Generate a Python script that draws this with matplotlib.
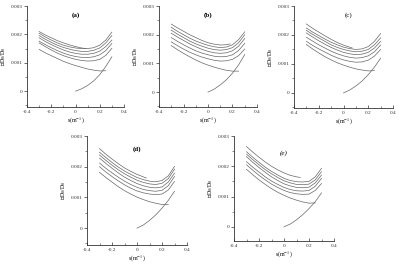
import matplotlib
matplotlib.use("Agg")
import matplotlib.pyplot as plt
from matplotlib.ticker import MultipleLocator

plt.rcParams['font.family'] = ['Liberation Serif', 'DejaVu Sans']
plt.rcParams['mathtext.fontset'] = 'stix'

# x grids
x_full = [-0.3, -0.25, -0.2, -0.15, -0.1, -0.05, 0.0, 0.05, 0.1, 0.15, 0.2, 0.25, 0.3]
x_desc = [-0.3, -0.25, -0.2, -0.15, -0.1, -0.05, 0.0, 0.05, 0.1, 0.15, 0.2, 0.25]
x_rise = [0.0, 0.05, 0.1, 0.15, 0.2, 0.25, 0.3]

panel_labels = ['(a)', '(b)', '(c)', '(d)', '(e)']
xlabel = 's(m$^{-1}$)'
ylabel = '△D$_0$/D$_0$'
xticks = [-0.4, -0.2, 0, 0.2, 0.4]
xticklabels = ['-0.4', '-0.2', '0', '0.2', '0.4']
yticks = [0, 0.001, 0.002, 0.003]
yticklabels = ['0', '0.001', '0.002', '0.003']

# panel (a)
a_top_x = [-0.3, -0.25, -0.2, -0.15, -0.1, -0.05, 0.0, 0.05, 0.09]
a_top = [0.00210, 0.00198, 0.00188, 0.00178, 0.00170, 0.00163, 0.00157, 0.00152, 0.00150]
a_full = [
    [0.00204, 0.00191, 0.00180, 0.00170, 0.00162, 0.00156, 0.00152, 0.00150, 0.00150, 0.00153, 0.00162, 0.00180, 0.00208],
    [0.00196, 0.00183, 0.00172, 0.00162, 0.00154, 0.00148, 0.00143, 0.00140, 0.00140, 0.00144, 0.00152, 0.00170, 0.00196],
    [0.00188, 0.00175, 0.00164, 0.00154, 0.00145, 0.00138, 0.00133, 0.00130, 0.00130, 0.00133, 0.00141, 0.00157, 0.00180],
    [0.00176, 0.00164, 0.00153, 0.00143, 0.00134, 0.00127, 0.00122, 0.00119, 0.00118, 0.00121, 0.00128, 0.00143, 0.00168],
    [0.00170, 0.00157, 0.00145, 0.00134, 0.00125, 0.00118, 0.00112, 0.00108, 0.00106, 0.00107, 0.00112, 0.00126, 0.00151],
]
a_desc = [0.00147, 0.00135, 0.00125, 0.00115, 0.00105, 0.00097, 0.00090, 0.00084, 0.00078, 0.00074, 0.00071, 0.00072]
a_rise = [0.0, 0.00008, 0.00020, 0.00036, 0.00058, 0.00087, 0.00121]

# panel (b)
b_top_x = [-0.3, -0.25, -0.2, -0.15, -0.1, -0.05, 0.0, 0.05, 0.1, 0.15, 0.18]
b_top = [0.00237, 0.00224, 0.00212, 0.00200, 0.00190, 0.00180, 0.00172, 0.00167, 0.00164, 0.00165, 0.00168]
b_full = [
    [0.00226, 0.00212, 0.00200, 0.00188, 0.00178, 0.00170, 0.00163, 0.00158, 0.00155, 0.00157, 0.00165, 0.00183, 0.00210],
    [0.00216, 0.00202, 0.00190, 0.00178, 0.00168, 0.00160, 0.00153, 0.00148, 0.00146, 0.00148, 0.00155, 0.00172, 0.00200],
    [0.00205, 0.00192, 0.00180, 0.00168, 0.00158, 0.00149, 0.00142, 0.00137, 0.00135, 0.00137, 0.00144, 0.00160, 0.00187],
    [0.00190, 0.00177, 0.00165, 0.00154, 0.00144, 0.00136, 0.00130, 0.00125, 0.00123, 0.00124, 0.00130, 0.00145, 0.00170],
    [0.00175, 0.00162, 0.00150, 0.00139, 0.00130, 0.00122, 0.00116, 0.00111, 0.00108, 0.00109, 0.00114, 0.00127, 0.00150],
]
b_desc = [0.00162, 0.00148, 0.00135, 0.00123, 0.00112, 0.00102, 0.00094, 0.00087, 0.00081, 0.00076, 0.00073, 0.00073]
b_rise = [0.0, 0.00010, 0.00025, 0.00043, 0.00066, 0.00095, 0.00131]

# panel (c)
c_top_x = [-0.3, -0.25, -0.2, -0.15, -0.1, -0.05, 0.0, 0.05, 0.07]
c_top = [0.00238, 0.00223, 0.00210, 0.00197, 0.00185, 0.00174, 0.00165, 0.00158, 0.00155]
c_full = [
    [0.00224, 0.00210, 0.00198, 0.00186, 0.00175, 0.00166, 0.00158, 0.00153, 0.00150, 0.00152, 0.00160, 0.00178, 0.00205],
    [0.00216, 0.00202, 0.00190, 0.00178, 0.00166, 0.00157, 0.00150, 0.00145, 0.00142, 0.00144, 0.00150, 0.00166, 0.00190],
    [0.00207, 0.00193, 0.00180, 0.00168, 0.00157, 0.00148, 0.00140, 0.00135, 0.00132, 0.00134, 0.00140, 0.00155, 0.00178],
    [0.00192, 0.00179, 0.00166, 0.00155, 0.00144, 0.00135, 0.00128, 0.00123, 0.00120, 0.00122, 0.00128, 0.00142, 0.00165],
    [0.00178, 0.00164, 0.00152, 0.00141, 0.00130, 0.00121, 0.00114, 0.00109, 0.00106, 0.00107, 0.00113, 0.00127, 0.00150],
]
c_desc = [0.00167, 0.00152, 0.00138, 0.00125, 0.00114, 0.00104, 0.00096, 0.00089, 0.00083, 0.00079, 0.00076, 0.00077]
c_rise = [0.0, 0.00010, 0.00024, 0.00041, 0.00063, 0.00089, 0.00120]

# panel (d)
d_top_x = [-0.3, -0.25, -0.2, -0.15, -0.1, -0.05, 0.0, 0.05, 0.075]
d_top = [0.00259, 0.00241, 0.00225, 0.00210, 0.00196, 0.00185, 0.00175, 0.00167, 0.00163]
d_full = [
    [0.00247, 0.00230, 0.00214, 0.00199, 0.00186, 0.00175, 0.00165, 0.00158, 0.00153, 0.00151, 0.00155, 0.00170, 0.00201],
    [0.00238, 0.00221, 0.00205, 0.00190, 0.00177, 0.00166, 0.00156, 0.00149, 0.00144, 0.00142, 0.00146, 0.00161, 0.00192],
    [0.00228, 0.00211, 0.00195, 0.00180, 0.00166, 0.00155, 0.00145, 0.00138, 0.00133, 0.00131, 0.00134, 0.00150, 0.00179],
    [0.00212, 0.00195, 0.00180, 0.00166, 0.00153, 0.00142, 0.00133, 0.00126, 0.00122, 0.00120, 0.00123, 0.00138, 0.00168],
    [0.00200, 0.00183, 0.00168, 0.00154, 0.00141, 0.00130, 0.00121, 0.00115, 0.00111, 0.00109, 0.00111, 0.00124, 0.00152],
]
d_desc = [0.00182, 0.00165, 0.00150, 0.00135, 0.00122, 0.00111, 0.00101, 0.00093, 0.00086, 0.00081, 0.00077, 0.00077]
d_rise = [0.0, 0.00010, 0.00025, 0.00043, 0.00065, 0.00090, 0.00120]

# panel (e)
e_top_x = [-0.3, -0.25, -0.2, -0.15, -0.1, -0.05, 0.0, 0.05, 0.1, 0.13]
e_top = [0.00265, 0.00247, 0.00230, 0.00214, 0.00200, 0.00188, 0.00178, 0.00170, 0.00165, 0.00163]
e_full = [
    [0.00248, 0.00230, 0.00213, 0.00197, 0.00183, 0.00171, 0.00160, 0.00153, 0.00149, 0.00148, 0.00150, 0.00165, 0.00193],
    [0.00240, 0.00222, 0.00205, 0.00189, 0.00175, 0.00163, 0.00152, 0.00145, 0.00140, 0.00139, 0.00141, 0.00155, 0.00182],
    [0.00232, 0.00213, 0.00196, 0.00180, 0.00165, 0.00153, 0.00142, 0.00135, 0.00130, 0.00129, 0.00131, 0.00145, 0.00171],
    [0.00215, 0.00197, 0.00181, 0.00165, 0.00151, 0.00140, 0.00130, 0.00123, 0.00119, 0.00118, 0.00120, 0.00134, 0.00160],
    [0.00205, 0.00187, 0.00170, 0.00155, 0.00141, 0.00130, 0.00120, 0.00113, 0.00109, 0.00107, 0.00108, 0.00120, 0.00143],
]
e_desc = [0.00190, 0.00172, 0.00155, 0.00140, 0.00126, 0.00114, 0.00104, 0.00095, 0.00088, 0.00082, 0.00078, 0.00079]
e_rise = [0.0, 0.00009, 0.00023, 0.00040, 0.00060, 0.00083, 0.00112]

panels = [
    (a_top_x, a_top, a_full, a_desc, a_rise),
    (b_top_x, b_top, b_full, b_desc, b_rise),
    (c_top_x, c_top, c_full, c_desc, c_rise),
    (d_top_x, d_top, d_full, d_desc, d_rise),
    (e_top_x, e_top, e_full, e_desc, e_rise),
]

W, H = 399, 264
# axes boxes in pixels: left, top, right, bottom
boxes = [
    (27, 6, 124, 107),
    (159, 6, 257, 107),
    (294, 6, 393, 108),
    (87, 136, 187, 245),
    (234, 136, 334, 241),
]
ylims = [(-0.00056, 0.003), (-0.00052, 0.003), (-0.00052, 0.003),
         (-0.00055, 0.003), (-0.00047, 0.003)]
label_pos = [(0.0, 0.00268), (0.0, 0.00268), (0.04, 0.00268),
             (0.0, 0.00258), (0.0, 0.00245)]

fig = plt.figure(figsize=(W / 100, H / 100), dpi=100)
lc = '#666666'
lw = 0.5
ac = '#333333'
for i, (box, data) in enumerate(zip(boxes, panels)):
    l, t, r, b = box
    ax = fig.add_axes([l / W, (H - b) / H, (r - l) / W, (b - t) / H])
    top_x, top_y, full, desc, rise = data
    ax.plot(top_x, top_y, color=lc, lw=lw)
    for f in full:
        ax.plot(x_full, f, color=lc, lw=lw)
    ax.plot(x_desc, desc, color=lc, lw=lw)
    ax.plot(x_rise, rise, color=lc, lw=lw)
    ax.set_xlim(-0.4, 0.4)
    ax.set_ylim(*ylims[i])
    ax.set_xticks(xticks)
    ax.set_xticklabels(xticklabels)
    ax.set_yticks(yticks)
    ax.set_yticklabels(yticklabels)
    ax.xaxis.set_minor_locator(MultipleLocator(0.1))
    ax.yaxis.set_minor_locator(MultipleLocator(0.0005))
    for s in ['top', 'right']:
        ax.spines[s].set_visible(False)
    for s in ['left', 'bottom']:
        ax.spines[s].set_linewidth(0.6)
        ax.spines[s].set_color(ac)
    ax.tick_params(axis='both', which='major', labelsize=3.8, length=2.0,
                   width=0.5, pad=1.5, colors=ac)
    ax.tick_params(axis='both', which='minor', length=1.1, width=0.4, colors=ac)
    ax.tick_params(axis='x', which='both', direction='in')
    ax.tick_params(axis='y', which='both', direction='out')
    ax.tick_params(axis='x', which='major', pad=2.5)
    ax.set_xlabel(xlabel, fontsize=4.2, labelpad=0.5)
    ax.set_ylabel(ylabel, fontsize=4.2, labelpad=1.5)
    ax.text(label_pos[i][0], label_pos[i][1], panel_labels[i], fontsize=5,
            fontweight='bold' if i in (0, 1, 3) else 'normal',
            style='italic' if i == 4 else 'normal',
            ha='center', va='center')

fig.savefig('out.png', dpi=100)
